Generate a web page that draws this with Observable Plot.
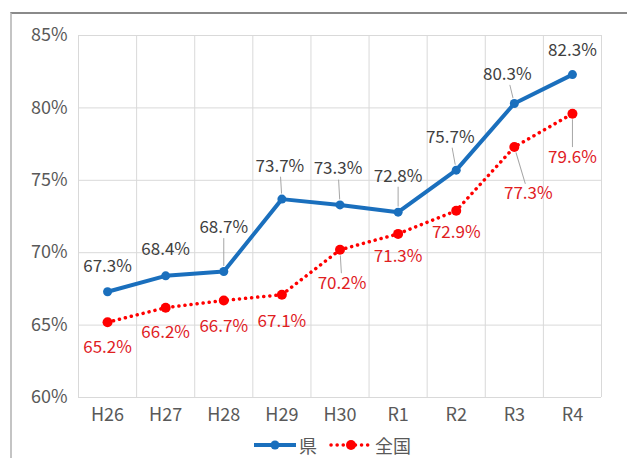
<!DOCTYPE html>
<html><head><meta charset="utf-8">
<script src="https://cdn.jsdelivr.net/npm/d3@7"></script>
<script src="https://cdn.jsdelivr.net/npm/@observablehq/plot@0.6"></script>
<style>
body{margin:0;width:627px;height:458px;overflow:hidden;position:relative;background:#fff;font-family:"Noto Sans CJK JP","Noto Sans",sans-serif;}
#frame{position:absolute;left:10px;top:12px;width:640px;height:500px;border-top:2px solid #8a8a8a;border-left:2px solid #c4c4c4;}
#chart{position:absolute;left:0;top:0;}
#legend{position:absolute;top:432px;left:253px;display:flex;align-items:center;font-size:18px;color:#595959;white-space:nowrap;}
#legend span{margin-right:12px;margin-left:2px;}
</style>
</head><body>
<div id="frame"></div>
<div id="chart"></div>
<div id="legend">
<svg width="44" height="20"><line x1="1" y1="10" x2="43" y2="10" stroke="#1a6fbd" stroke-width="4"/><circle cx="22" cy="10" r="4.5" fill="#1a6fbd"/></svg><span>県</span>
<svg width="44" height="20"><line x1="2" y1="10" x2="43" y2="10" stroke="#ff0000" stroke-width="3.5" stroke-dasharray="0.1 6" stroke-linecap="round"/><circle cx="22" cy="10" r="5" fill="#ff0000"/></svg><span>全国</span>
</div>
<script>
const categories = ["H26","H27","H28","H29","H30","R1","R2","R3","R4"];
const prefValues = [67.3,68.4,68.7,73.7,73.3,72.8,75.7,80.3,82.3];
const nationalValues = [65.2,66.2,66.7,67.1,70.2,71.3,72.9,77.3,79.6];
const yTicks = [60,65,70,75,80,85];

// manual label placement (pixel nudges, as in the original spreadsheet chart)
const prefLabelNudge = [[0,-25],[0,-26],[0,-44],[-2,-33],[-2,-36],[0,-36],[-6,-33],[-7,-29],[0,-24]];
const natLabelNudge  = [[0,25],[0,25],[0,26],[0,27],[2,34],[0,23],[0,22],[14,47],[0,44]];

const pref = categories.map((c,i)=>({i, c, v: prefValues[i]}));
const nat = categories.map((c,i)=>({i, c, v: nationalValues[i]}));
const idx = categories.map((c,i)=>i);
const edges = d3.range(-0.5, categories.length, 1);

const leaderShape = {draw(context, l) { context.moveTo(0, -6); context.lineTo(0, -l); }};

function labelMarks(data, nudges, fill) {
  const marks = [];
  data.forEach((d, k) => {
    const [dx, dy] = nudges[k];
    const dist = Math.hypot(dx, dy);
    if (dist >= 29) {
      const rot = Math.atan2(dx, -dy) * 180 / Math.PI;
      marks.push(Plot.vector([d], {x: "i", y: "v", length: dist - 11, rotate: rot, anchor: "start", shape: leaderShape, stroke: "#a6a6a6", strokeWidth: 1}));
    }
    marks.push(Plot.text([d], {x: "i", y: "v", text: e => e.v.toFixed(1) + "%", dx, dy, fill, fontSize: 17}));
  });
  return marks;
}

const chart = Plot.plot({
  width: 627, height: 432,
  marginLeft: 78, marginRight: 26, marginTop: 35, marginBottom: 35,
  style: {fontFamily: '"Noto Sans CJK JP","Noto Sans",sans-serif', fontSize: "18px", color: "#595959", background: "transparent", overflow: "visible"},
  x: {type: "linear", domain: [-0.5, categories.length - 0.5]},
  y: {domain: [60, 85]},
  marks: [
    Plot.ruleY(yTicks, {stroke: "#d9d9d9", strokeWidth: 1}),
    Plot.ruleX(edges, {stroke: "#d9d9d9", strokeWidth: 1}),
    Plot.axisX(idx, {tickSize: 0, tickPadding: 11, tickFormat: i => categories[i], fontSize: 18, fill: "#595959", label: null}),
    Plot.axisY(yTicks, {tickSize: 0, tickPadding: 11, tickFormat: d => d + "%", fontSize: 18, fill: "#595959", label: null}),
    ...labelMarks(pref, prefLabelNudge, "#404040"),
    ...labelMarks(nat, natLabelNudge, "#e0201f"),
    Plot.line(nat, {x: "i", y: "v", stroke: "#ff0000", strokeWidth: 3.5, strokeDasharray: "0.1 6", strokeLinecap: "round"}),
    Plot.dot(nat, {x: "i", y: "v", r: 5, fill: "#ff0000"}),
    Plot.line(pref, {x: "i", y: "v", stroke: "#1a6fbd", strokeWidth: 4}),
    Plot.dot(pref, {x: "i", y: "v", r: 4.5, fill: "#1a6fbd"})
  ]
});
document.getElementById("chart").appendChild(chart);
</script>
</body></html>
